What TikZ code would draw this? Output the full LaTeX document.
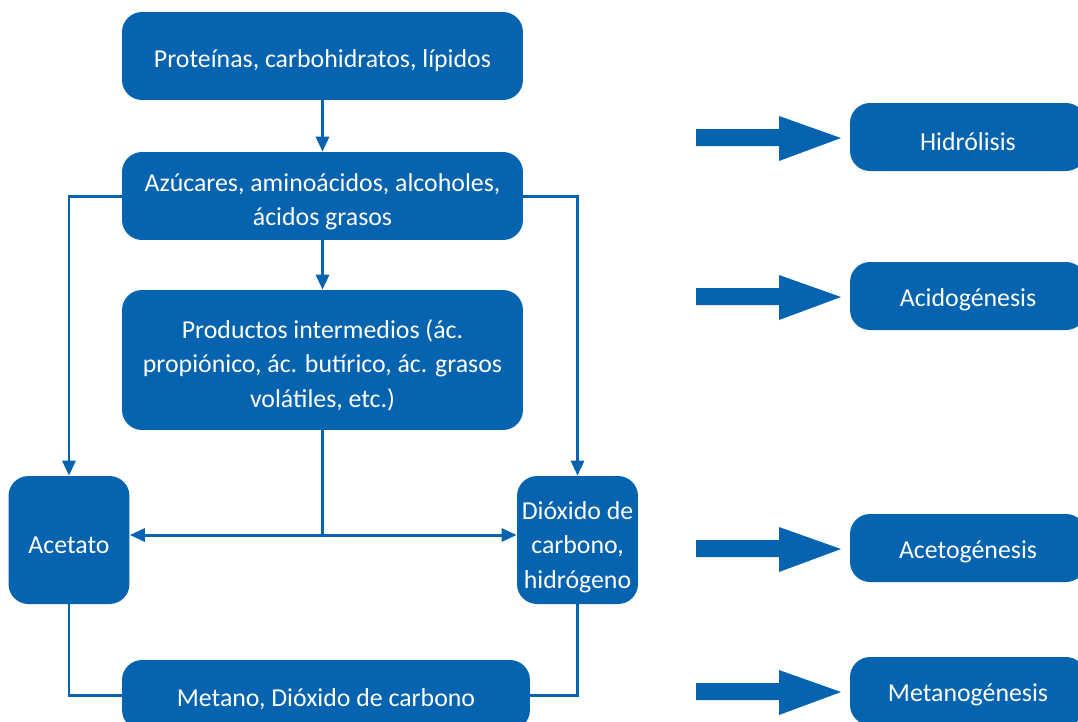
\documentclass[tikz,border=0pt]{standalone}
\usepackage{fontspec}
\setmainfont{Carlito}
\definecolor{procblue}{RGB}{5,99,175}
\usepackage{tikz}
\usetikzlibrary{arrows.meta,positioning,calc}
\newcommand{\topgap}[1]{\rule{0pt}{#1}}

\begin{document}
\begin{tikzpicture}[x=0.02cm, y=-0.02cm,
    box/.style={draw=none, fill=procblue, text=white, rounded corners=0.4cm,
        align=center, inner sep=2pt, font=\fontsize{14.7}{19.6}\selectfont,
        execute at begin node={\rule{0pt}{15pt}}},
    stage/.style={box, minimum width=4.72cm, minimum height=1.36cm},
    conn/.style={draw=procblue, line width=1.7pt},
    tip/.style={-{Triangle[length=3mm, width=2.6mm]}}]
    \useasboundingbox (0,0) rectangle (1078,721);

    % Products chain
    \node[box, minimum width=8.02cm, minimum height=1.76cm] (proteinas) at (322.5,56)
        {Proteínas, carbohidratos, lípidos};
    \node[box, minimum width=8.02cm, minimum height=1.76cm] (azucares) at (322.5,196)
        {\topgap{16.5pt}Azúcares, aminoácidos, alcoholes,\\ácidos grasos};
    \node[box, minimum width=8.02cm, minimum height=2.8cm] (intermedios) at (322.5,360)
        {\topgap{16.5pt}Productos intermedios (ác.\\propiónico, ác. butírico, ác. grasos\\volátiles, etc.)};
    \node[box, minimum width=2.42cm, minimum height=2.56cm] (acetato) at (69,540)
        {Acetato};
    \node[box, minimum width=2.42cm, minimum height=2.56cm] (dioxido) at (577.5,540)
        {\topgap{18pt}Dióxido de\\carbono,\\hidrógeno};
    \node[box, minimum width=8.16cm, minimum height=1.4cm] (metano) at (326,695)
        {Metano, Dióxido de carbono};
    \coordinate (cruce) at (322.5,535);

    % Connectors
    \draw[conn, tip] (proteinas) -- (azucares);
    \draw[conn, tip] (azucares) -- (intermedios);
    \draw[conn, tip] (azucares.west) -| (acetato.north);
    \draw[conn, tip] (azucares.east) -| (dioxido.north);
    \draw[conn] (intermedios.south) -- (cruce);
    \draw[conn, {Triangle[length=3mm, width=2.6mm]}-{Triangle[length=3mm, width=2.6mm]}]
        (acetato.east |- cruce) -- (dioxido.west |- cruce);
    \draw[conn] (acetato.south) |- (metano.west);
    \draw[conn] (dioxido.south) |- (metano.east);

    % Stages
    \node[stage] (hidrolisis) at (968,137) {Hidrólisis};
    \node[stage] (acidogenesis) at (968,296) {Acidogénesis};
    \node[stage] (acetogenesis) at (968,548) {Acetogénesis};
    \node[stage] (metanogenesis) at (968,691) {Metanogénesis};

    % Big arrows
    \fill[procblue] (696,129) -- (779,129) -- (779,116) -- (841,138) -- (779,161) -- (779,146) -- (696,146) -- cycle;
    \fill[procblue] (696,288) -- (779,288) -- (779,275) -- (841,297) -- (779,320) -- (779,305) -- (696,305) -- cycle;
    \fill[procblue] (696,540) -- (779,540) -- (779,527) -- (841,549) -- (779,572) -- (779,557) -- (696,557) -- cycle;
    \fill[procblue] (696,683) -- (779,683) -- (779,670) -- (841,692) -- (779,715) -- (779,700) -- (696,700) -- cycle;
\end{tikzpicture}
\end{document}
